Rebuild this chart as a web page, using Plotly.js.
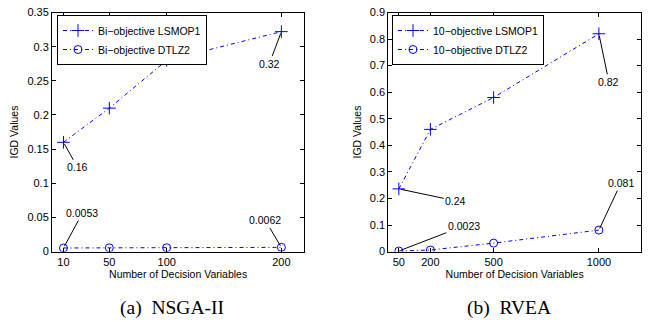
<!DOCTYPE html>
<html>
<head>
<meta charset="utf-8">
<script src="https://cdn.plot.ly/plotly-3.0.1.min.js"></script>
<style>html,body{margin:0;padding:0;background:#fff;}#chart{width:648px;height:322px;}</style>
</head>
<body>
<div id="chart"></div>
<script>
// ---- data ----
const nsgaVars = [10, 50, 100, 200];
const nsgaLSMOP1 = [0.16, 0.21, 0.28, 0.322];
const nsgaDTLZ2 = [0.0053, 0.0055, 0.0056, 0.0062];
const rveaVars = [50, 200, 500, 1000];
const rveaLSMOP1 = [0.236, 0.46, 0.58, 0.82];
const rveaDTLZ2 = [0.0023, 0.006, 0.032, 0.081];
const nsgaXTicks = [10, 50, 100, 200];
const rveaXTicks = [50, 200, 500, 1000];
const seriesNames = ['Bi\u2212objective LSMOP1', 'Bi\u2212objective DTLZ2', '10\u2212objective LSMOP1', '10\u2212objective DTLZ2'];
const captions = ['(a)\u00a0\u00a0NSGA-II', '(b)\u00a0\u00a0RVEA'];
const xTitle = 'Number of Decision Variables';
const yTitle = 'IGD Values';

const blue = '#0000ff';
const F = 'Liberation Sans, Arial, sans-serif';

function tr(x, y, name, sym, size, xa, ya, leg) {
  return {
    x: x, y: y, name: name, type: 'scatter', mode: 'lines+markers',
    xaxis: xa, yaxis: ya, legend: leg,
    line: {color: blue, width: 1, dash: '4px,3px,1px,3px'},
    marker: {symbol: sym, size: size, color: blue, line: {color: blue, width: 1}}
  };
}

const data = [
  tr(nsgaVars, nsgaLSMOP1, seriesNames[0], 'cross-thin-open', 9, 'x', 'y', 'legend'),
  tr(nsgaVars, nsgaDTLZ2, seriesNames[1], 'circle-open', 8, 'x', 'y', 'legend'),
  tr(rveaVars, rveaLSMOP1, seriesNames[2], 'cross-thin-open', 9, 'x2', 'y2', 'legend2'),
  tr(rveaVars, rveaDTLZ2, seriesNames[3], 'circle-open', 8, 'x2', 'y2', 'legend2')
];

function lab(xr, yr, x, y, ax, ay) {
  return {xref: xr, yref: yr, x: x, y: y, text: String(+y.toPrecision(2)),
    showarrow: true, arrowhead: 0, arrowwidth: 1, arrowcolor: '#000',
    ax: ax, ay: ay, standoff: 2, font: {family: F, size: 10.5, color: '#000'}};
}

const annotations = [
  lab('x', 'y', nsgaVars[3], nsgaLSMOP1[3], -12, 32),
  lab('x', 'y', nsgaVars[0], nsgaLSMOP1[0], 14, 25),
  lab('x', 'y', nsgaVars[0], nsgaDTLZ2[0], 19, -35),
  lab('x', 'y', nsgaVars[3], nsgaDTLZ2[3], -16, -27),
  lab('x2', 'y2', rveaVars[3], rveaLSMOP1[3], 10, 48),
  lab('x2', 'y2', rveaVars[0], rveaLSMOP1[0], 57, 12),
  lab('x2', 'y2', rveaVars[0], rveaDTLZ2[0], 65, -25),
  lab('x2', 'y2', rveaVars[3], rveaDTLZ2[3], 22, -47),
  {xref: 'paper', yref: 'paper', x: 172 / 648, y: 1 - 308 / 322, xanchor: 'center', yanchor: 'middle',
   text: captions[0], showarrow: false,
   font: {family: 'Liberation Serif, Times New Roman, serif', size: 19.5, color: '#000'}},
  {xref: 'paper', yref: 'paper', x: 509 / 648, y: 1 - 308 / 322, xanchor: 'center', yanchor: 'middle',
   text: captions[1], showarrow: false,
   font: {family: 'Liberation Serif, Times New Roman, serif', size: 19.5, color: '#000'}}
];

function xax(dom, range, ticks, anchor) {
  return {domain: dom, range: range, tickvals: ticks, ticktext: ticks.map(String), anchor: anchor,
    showgrid: false, zeroline: false, showline: true, linecolor: '#000', linewidth: 1, mirror: 'allticks',
    ticks: 'inside', ticklen: 4, tickcolor: '#000', tickfont: {family: F, size: 11, color: '#000'},
    title: {text: xTitle, font: {family: F, size: 10.5, color: '#000'}, standoff: 1}, automargin: false};
}
function yax(dom, range, dtick, anchor) {
  return {domain: dom, range: range, dtick: dtick, tick0: 0, anchor: anchor,
    showgrid: false, zeroline: false, showline: true, linecolor: '#000', linewidth: 1, mirror: 'allticks',
    ticks: 'inside', ticklen: 4, tickcolor: '#000', tickfont: {family: F, size: 11, color: '#000'},
    title: {text: yTitle, font: {family: F, size: 10.5, color: '#000'}, standoff: 6}, automargin: false};
}

const yDom = [70.4 / 322, 309.5 / 322];
const layout = {
  width: 648, height: 322,
  margin: {l: 0, r: 0, t: 0, b: 0},
  paper_bgcolor: '#fff', plot_bgcolor: '#fff',
  showlegend: true,
  xaxis: xax([52 / 648, 304.3 / 648], [0, 220], nsgaXTicks, 'y'),
  yaxis: yax(yDom, [0, 0.35], 0.05, 'x'),
  xaxis2: xax([388.3 / 648, 641 / 648], [0, 1200], rveaXTicks, 'y2'),
  yaxis2: yax(yDom, [0, 0.9], 0.1, 'x2'),
  legend: {x: 57 / 648, y: 1 - 15 / 322, xanchor: 'left', yanchor: 'top', bgcolor: '#fff',
    bordercolor: '#000', borderwidth: 1, font: {family: F, size: 10.5, color: '#000'}, tracegroupgap: 0},
  legend2: {x: 392 / 648, y: 1 - 15 / 322, xanchor: 'left', yanchor: 'top', bgcolor: '#fff',
    bordercolor: '#000', borderwidth: 1, font: {family: F, size: 10.5, color: '#000'}, tracegroupgap: 0},
  annotations: annotations
};

Plotly.newPlot('chart', data, layout, {staticPlot: true, displayModeBar: false});
</script>
</body>
</html>
